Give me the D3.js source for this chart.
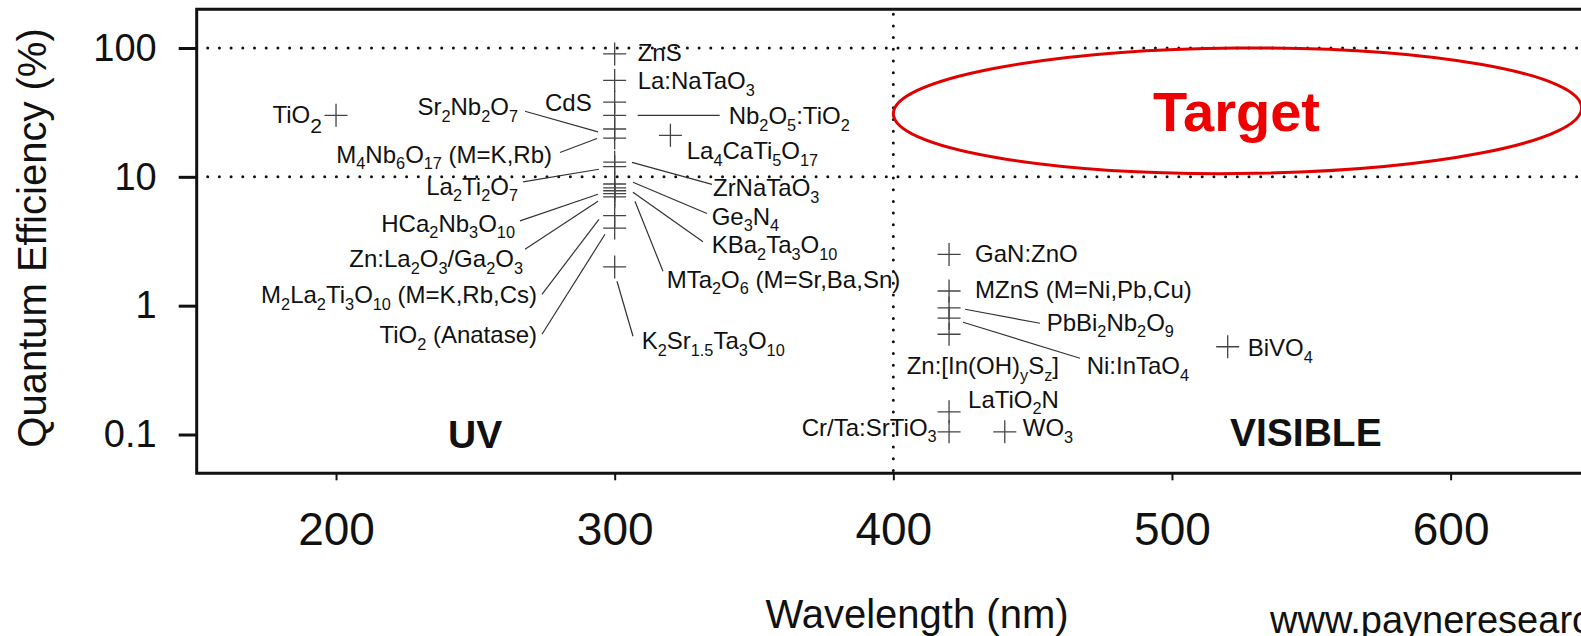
<!DOCTYPE html>
<html><head><meta charset="utf-8">
<script src="https://cdn.jsdelivr.net/npm/d3@7"></script>
<style>
html,body{margin:0;padding:0;background:#fff;overflow:hidden}
text{font-family:"Liberation Sans",Arial,Helvetica,sans-serif;white-space:pre}
</style>
</head><body>
<svg id="chart" width="1581" height="636"></svg>
<script>
// ---------------- DATA ----------------
const compounds = [
  "ZnS","La:NaTaO_{3}","CdS","Nb_{2}O_{5}:TiO_{2}","Sr_{2}Nb_{2}O_{7}",
  "M_{4}Nb_{6}O_{17} (M=K,Rb)","ZrNaTaO_{3}","La_{2}Ti_{2}O_{7}","Ge_{3}N_{4}",
  "KBa_{2}Ta_{3}O_{10}","HCa_{2}Nb_{3}O_{10}","MTa_{2}O_{6} (M=Sr,Ba,Sn)",
  "Zn:La_{2}O_{3}/Ga_{2}O_{3}","M_{2}La_{2}Ti_{3}O_{10} (M=K,Rb,Cs)",
  "TiO_{2} (Anatase)","K_{2}Sr_{1.5}Ta_{3}O_{10}",
  "TiO_{2}","La_{4}CaTi_{5}O_{17}",
  "GaN:ZnO","MZnS (M=Ni,Pb,Cu)","PbBi_{2}Nb_{2}O_{9}","Ni:InTaO_{4}",
  "Zn:[In(OH)_{y}S_{z}]","LaTiO_{2}N","Cr/Ta:SrTiO_{3}","WO_{3}","BiVO_{4}"
];
const wavelengthNm = [
  300,300,300,300,300,300,300,300,300,300,300,300,300,300,300,300,
  200,320,
  420,420,420,420,420,420,420,440,520
];
const quantumEff = [
  90,56,38,30,23.5,20,13,12,8.8,8.2,7.8,7.4,7.0,5.0,4.0,2.0,
  30,21,
  2.5,1.3,0.96,0.8,0.6,0.15,0.105,0.105,0.48
];
const xTicks = [200,300,400,500,600];
const yTicks = [0.1,1,10,100];
const qeGuides = [10,100];
const wlGuides = [400];
const targetWl = [400,647];
const targetQe = [10.6,100];
const regionLabels = ["UV","VISIBLE"];
const xTitle = "Wavelength (nm)";
const yTitle = "Quantum Efficiency (%)";
const targetLabel = "Target";
const sourceLabel = "www.payneresearch.com";

// ---------------- LAYOUT (label offsets from each mark, px) ----------------
const labelLayout = [
  {a:"start",d:[23,7.5]},
  {a:"start",d:[23,9]},
  {a:"end",d:[-23,8.6]},
  {a:"start",d:[114,9],l:[23,0,105,0]},
  {a:"end",d:[-96.7,-13.8],l:[-89.7,-17.8,-16.7,2.9]},
  {a:"end",d:[-62.7,24.5],l:[-54.7,14.5,-17.7,0.5]},
  {a:"start",d:[98.3,33.9],l:[17.3,0.2,97.3,22.2]},
  {a:"end",d:[-96.7,28.1],l:[-91.7,15.3,-15.7,2.6]},
  {a:"start",d:[97,41],l:[18.3,-1.7,92.3,29.5]},
  {a:"start",d:[97,65.5],l:[18.3,4.4,88.3,53.8]},
  {a:"end",d:[-99.7,41],l:[-94.7,30.2,-16.7,3.5]},
  {a:"start",d:[52,93.9],l:[20.3,7.6,48.3,77.6]},
  {a:"end",d:[-91.7,70.5],l:[-89.7,52.5,-16.7,4.5]},
  {a:"end",d:[-77.7,87.7],l:[-72.7,78.7,-15.7,3.7]},
  {a:"end",d:[-77.7,115.2],l:[-72.7,106.2,-9.7,6.2]},
  {a:"start",d:[27,82.4],l:[2.3,14.4,18.3,69.4]},
  {a:"end",d:[-14,7.2],big:true},
  {a:"start",d:[16.3,24]},
  {a:"start",d:[26,7.6]},
  {a:"start",d:[26,6.6]},
  {a:"start",d:[97.6,23],l:[16,1.3,91,15.3]},
  {a:"start",d:[137.6,56.1],l:[14,4.1,131,40.1]},
  {a:"start",d:[-42.4,40]},
  {a:"start",d:[19,-4.2]},
  {a:"end",d:[-12.4,4]},
  {a:"start",d:[18,4.4]},
  {a:"start",d:[20,9.5]}
];

// ---------------- CHART ----------------
(function(){
const W = 1581;
const svg = d3.select("#chart");
const pLeft = 196.7, pTop = 9.2, pBottom = 473.3, pxPer100 = 278.65;
const x = d3.scaleLinear().domain([150,650]).range([pLeft, pLeft + 5*pxPer100]);
const y = d3.scaleLog().domain([0.05,200]).range([pBottom, pTop]);
const ink = "#111";

function applyAttrs(sel, o){ for (const k in o) sel.attr(k, o[k]); return sel; }
const dot = {stroke: ink, "stroke-width": 3, "stroke-linecap": "round", "stroke-dasharray": "0 11.7"};
qeGuides.forEach(v => {
  applyAttrs(svg.append("line").attr("x1", pLeft + 11).attr("x2", W + 20)
    .attr("y1", y(v)).attr("y2", y(v)), dot);
});
wlGuides.forEach(v => {
  applyAttrs(svg.append("line").attr("x1", x(v)).attr("x2", x(v))
    .attr("y1", pTop + 5).attr("y2", pBottom - 2), dot);
});

svg.append("path")
  .attr("d", `M${W+20},${pTop}H${pLeft}V${pBottom}H${W+20}`)
  .attr("fill","none").attr("stroke", ink).attr("stroke-width", 3);

const yAxis = svg.append("g").attr("transform", `translate(${pLeft},0)`)
  .call(d3.axisLeft(y).tickValues(yTicks).tickFormat(d => String(d))
        .tickSize(18).tickPadding(22).tickSizeOuter(0));
yAxis.select(".domain").remove();
yAxis.selectAll(".tick line").attr("stroke", ink).attr("stroke-width", 3);
yAxis.selectAll(".tick text").attr("font-size", 38).attr("fill", ink)
  .attr("font-family", "Liberation Sans, Arial, sans-serif");

const xAxis = svg.append("g").attr("transform", `translate(0,${pBottom})`)
  .call(d3.axisBottom(x).tickValues(xTicks).tickFormat(d => String(d))
        .tickSize(7).tickPadding(32).tickSizeOuter(0));
xAxis.select(".domain").remove();
xAxis.selectAll(".tick line").attr("stroke", ink).attr("stroke-width", 2);
xAxis.selectAll(".tick text").attr("font-size", 46).attr("fill", ink)
  .attr("font-family", "Liberation Sans, Arial, sans-serif");

svg.append("text").attr("x", 917).attr("y", 628).attr("text-anchor","middle")
  .attr("font-size", 40).attr("fill", ink).text(xTitle);
svg.append("text").attr("transform","translate(46,238) rotate(-90)")
  .attr("text-anchor","middle").attr("font-size", 40).attr("fill", ink).text(yTitle);

const ecx = (x(targetWl[0]) + x(targetWl[1]))/2, erx = (x(targetWl[1]) - x(targetWl[0]))/2;
const ecy = (y(targetQe[0]) + y(targetQe[1]))/2, ery = (y(targetQe[0]) - y(targetQe[1]))/2;
svg.append("ellipse").attr("cx", ecx).attr("cy", ecy).attr("rx", erx).attr("ry", ery)
  .attr("transform", `rotate(-0.5 ${ecx} ${ecy})`)
  .attr("fill","none").attr("stroke","#e00000").attr("stroke-width", 3);
svg.append("text").attr("x", 1153).attr("y", 131).attr("font-size", 56)
  .attr("font-weight","bold").attr("fill","#ee0000").text(targetLabel);

svg.append("text").attr("x", 448).attr("y", 448).attr("font-size", 39)
  .attr("font-weight","bold").attr("fill", ink).text(regionLabels[0]);
svg.append("text").attr("x", 1230).attr("y", 446).attr("font-size", 39)
  .attr("font-weight","bold").attr("fill", ink).text(regionLabels[1]);

svg.append("text").attr("x", 1270).attr("y", 633).attr("font-size", 38)
  .attr("fill", ink).text(sourceLabel);

function rich(textSel, str, size, subScale, subShift){
  const re = /_\{([^}]*)\}/g;
  let last = 0, m, pend = 0;
  while ((m = re.exec(str))) {
    if (m.index > last) {
      textSel.append("tspan").attr("dy", pend).attr("font-size", size).text(str.slice(last, m.index));
      pend = 0;
    }
    textSel.append("tspan").attr("dy", pend + subShift).attr("font-size", size*subScale).text(m[1]);
    pend = -subShift;
    last = re.lastIndex;
  }
  if (last < str.length) textSel.append("tspan").attr("dy", pend).attr("font-size", size).text(str.slice(last));
}

const pts = compounds.map((c,i) => ({name:c, wl:wavelengthNm[i], qe:quantumEff[i], lay:labelLayout[i]}));

svg.append("g").selectAll("line").data(pts.filter(p => p.lay.l)).join("line")
  .attr("x1", p => x(p.wl) + p.lay.l[0]).attr("y1", p => y(p.qe) + p.lay.l[1])
  .attr("x2", p => x(p.wl) + p.lay.l[2]).attr("y2", p => y(p.qe) + p.lay.l[3])
  .attr("stroke", "#333").attr("stroke-width", 1.2);

svg.append("g").selectAll("path").data(pts).join("path")
  .attr("transform", p => `translate(${x(p.wl)},${y(p.qe)})`)
  .attr("d", "M-11.5,0H11.5M0,-11.5V11.5")
  .attr("stroke", "#444").attr("stroke-width", 1.3).attr("fill","none");

pts.forEach(p => {
  const t = svg.append("text")
    .attr("x", x(p.wl) + p.lay.d[0]).attr("y", y(p.qe) + p.lay.d[1])
    .attr("text-anchor", p.lay.a).attr("fill", ink);
  if (p.lay.big) rich(t, p.name, 24, 0.88, 10);
  else rich(t, p.name, 24, 0.68, 6.5);
});
})();
</script>
</body></html>
